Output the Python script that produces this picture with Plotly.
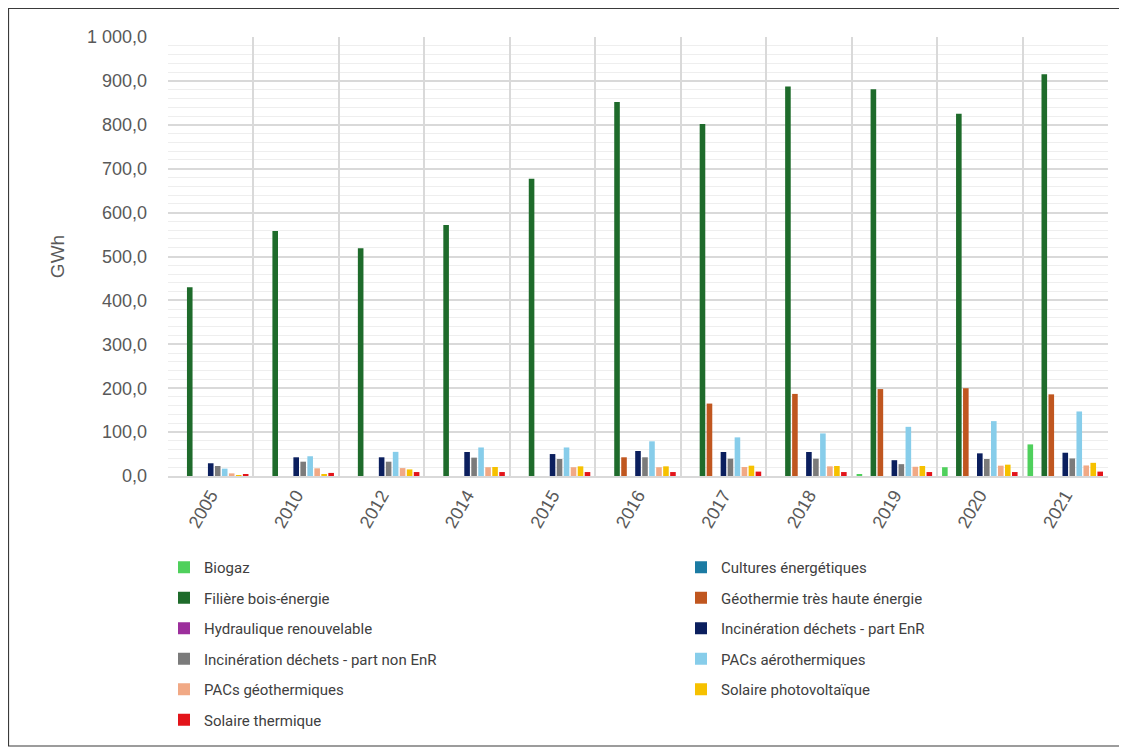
import plotly.graph_objects as go

years = ["2005", "2010", "2012", "2014", "2015", "2016", "2017", "2018", "2019", "2020", "2021"]

biogaz = [0, 0, 0, 0, 0, 0, 0, 0, 4.5, 20, 72]
cultures = [0, 0, 0, 0, 0, 0, 0, 0, 0, 0, 0]
bois = [430, 558, 519, 572, 677, 852, 802, 887, 881, 825, 915]
geothermie = [0, 0, 0, 0, 0, 42.6, 165, 187, 198, 200, 186]
hydraulique = [0, 0, 0, 0, 0, 0, 0, 0, 0, 0, 0]
incin_enr = [29, 42.6, 42.6, 54.7, 50, 57, 54.7, 54.7, 36, 51.6, 53]
incin_non_enr = [22.8, 32.6, 32.6, 41.8, 38.7, 42.6, 39.5, 39.5, 27, 38.7, 40]
pac_aero = [16.7, 45, 55, 65, 65, 79, 88, 97, 112, 125, 147]
pac_geo = [6, 17.5, 18, 20, 20, 20, 20.5, 22, 21, 23.5, 24]
solaire_pv = [1, 4, 15, 20.5, 22, 22, 23.5, 22.8, 22.8, 25.8, 30]
solaire_th = [3, 7, 9, 9, 9, 9, 10, 9, 9, 9, 10]

series = [
    ("Biogaz", biogaz, "#4fd05c", "legend"),
    ("Cultures énergétiques", cultures, "#1b7ba3", "legend2"),
    ("Filière bois-énergie", bois, "#1e6b2b", "legend"),
    ("Géothermie très haute énergie", geothermie, "#c0561f", "legend2"),
    ("Hydraulique renouvelable", hydraulique, "#9c2f9c", "legend"),
    ("Incinération déchets - part EnR", incin_enr, "#0b1f5e", "legend2"),
    ("Incinération déchets - part non EnR", incin_non_enr, "#7b7b7b", "legend"),
    ("PACs aérothermiques", pac_aero, "#87cdea", "legend2"),
    ("PACs géothermiques", pac_geo, "#f1a985", "legend"),
    ("Solaire photovoltaïque", solaire_pv, "#f6c100", "legend2"),
    ("Solaire thermique", solaire_th, "#e3141a", "legend"),
]

fig = go.Figure()
for name, vals, color, leg in series:
    fig.add_trace(go.Bar(
        x=years, y=vals, name=name, marker=dict(color=color, line=dict(width=0)),
        legend=leg, legendgroup=name,
    ))

# page offset of the figure (body margin)
OFF = 8
W, H = 1119, 739
L = 168 - OFF
R = W - (1108 - OFF)
T = 37 - OFF
B = H - (476 - OFF)
pw = W - L - R
ph = H - T - B

def px(xpage):
    return (xpage - OFF - L) / pw

def py(ypage):
    return (H - B - (ypage - OFF)) / ph

legend_font = dict(family="Roboto, Liberation Sans, sans-serif", size=15, color="#404040")

fig.update_layout(
    width=W, height=H,
    margin=dict(l=L, r=R, t=T, b=B, autoexpand=False),
    paper_bgcolor="white", plot_bgcolor="white",
    separators=", ",
    barmode="group", bargap=0.1, bargroupgap=0.2,
    font=dict(family="Liberation Sans, Arial, sans-serif", color="#595959", size=18),
    legend=dict(
        orientation="v", x=px(164), y=py(551), xanchor="left", yanchor="top",
        font=legend_font, tracegroupgap=8, itemwidth=30, bgcolor="rgba(0,0,0,0)",
    ),
    legend2=dict(
        orientation="v", x=px(681), y=py(551), xanchor="left", yanchor="top",
        font=legend_font, tracegroupgap=8, itemwidth=30, bgcolor="rgba(0,0,0,0)",
    ),
    xaxis=dict(
        type="category", tickangle=-60, showgrid=True, tickson="boundaries",
        gridcolor="#d9d9d9", gridwidth=1.5, showline=True, linecolor="#d9d9d9",
        linewidth=1.5, ticks="", tickfont=dict(size=18, color="#595959"),
    ),
    yaxis=dict(
        range=[0, 1000], dtick=100, tickformat=",.1f", showgrid=True,
        gridcolor="#d9d9d9", gridwidth=1.5, zeroline=False, ticks="",
        ticklabelstandoff=20,
        tickfont=dict(size=18, color="#595959"),
        minor=dict(dtick=20, showgrid=True, gridcolor="#eeeeee", gridwidth=1),
        title=dict(text="GWh", standoff=17, font=dict(size=19, color="#595959")),
    ),
    shapes=[dict(
        type="rect", xref="paper", yref="paper",
        x0=px(8.5), x1=px(1120), y0=py(746), y1=py(8.5),
        line=dict(color="#3a3a3a", width=1.2), fillcolor="rgba(0,0,0,0)", layer="below",
    )],
)

fig.write_html("out.html")
